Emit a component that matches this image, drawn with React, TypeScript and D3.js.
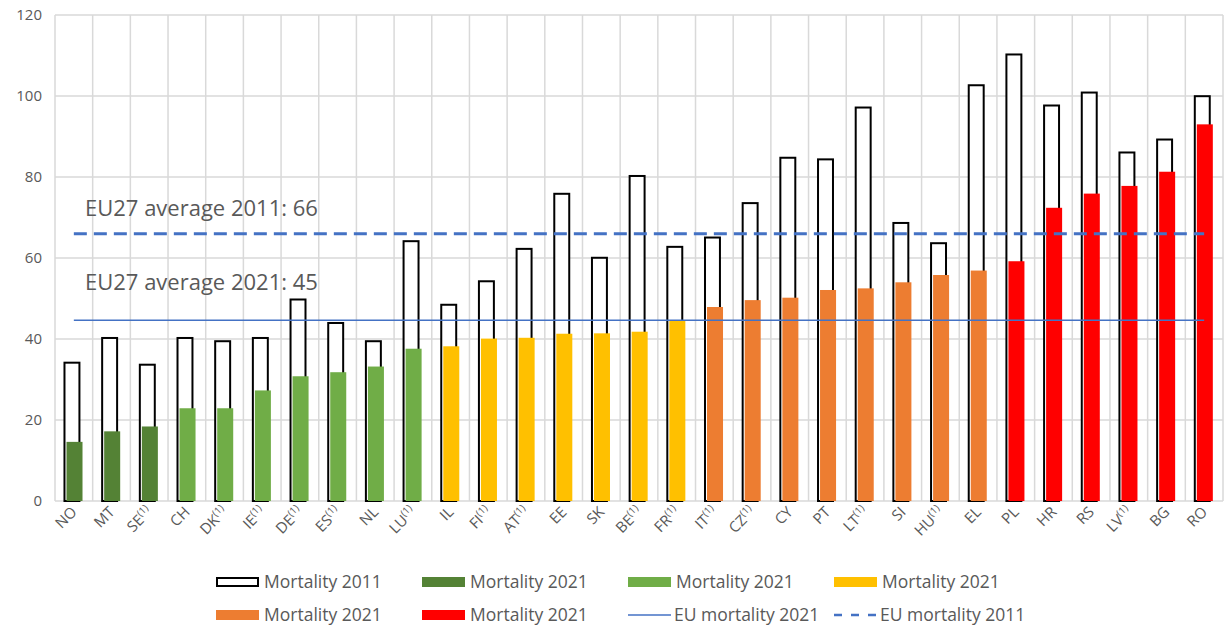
import * as d3 from "d3";
import { useEffect, useRef } from "react";

// country codes, footnote flag (1) shown as superscript
const countries = ["NO","MT","SE","CH","DK","IE","DE","ES","NL","LU","IL","FI","AT","EE","SK","BE","FR","IT","CZ","CY","PT","LT","SI","HU","EL","PL","HR","RS","LV","BG","RO"];
const footnote = [0,0,1,0,1,1,1,1,0,1,0,1,1,0,0,1,1,1,1,0,0,1,0,1,0,0,0,0,1,0,0];

const mortality2011 = [34.4,40.5,33.9,40.5,39.7,40.5,50,44.2,39.7,64.4,48.7,54.5,62.5,76.1,60.3,80.5,63,65.3,73.8,85,84.6,97.4,68.9,63.9,102.9,110.5,97.9,101.1,86.3,89.5,100.2];
const mortality2021 = [14.6,17.2,18.4,22.9,22.9,27.3,30.8,31.8,33.2,37.6,38.2,40.1,40.3,41.3,41.4,41.8,44.5,47.9,49.6,50.2,52.1,52.5,54,55.8,56.9,59.2,72.4,75.9,77.8,81.3,93];
// which colour group each 2021 bar belongs to
const group2021 = [0,0,0,1,1,1,1,1,1,1,2,2,2,2,2,2,2,3,3,3,3,3,3,3,3,4,4,4,4,4,4];

const euAvg2011 = 66;
const euAvg2021 = 44.6;

const yTicks = [0,20,40,60,80,100,120];
const legendLabels = ["Mortality 2011","Mortality 2021","Mortality 2021","Mortality 2021","Mortality 2021","Mortality 2021","EU mortality 2021","EU mortality 2011"];

const groupColors = ["#548235","#70AD47","#FFC000","#ED7D31","#FF0000"];
const gray = "#595959";
const blue = "#4472C4";

export default function App(){
    const ref = useRef<SVGSVGElement>(null);

    useEffect(()=>{
        const svg = d3.select(ref.current);
        svg.selectAll("*").remove();
        const font = "'Open Sans', sans-serif";

        const x = d3.scaleBand().domain(countries).range([55,1223]).paddingInner(0).paddingOuter(0);
        const y = d3.scaleLinear().domain([0,120]).range([501,15]);
        const bw = x.bandwidth();

        //grid
        svg.selectAll("hgrid").data(yTicks).enter().append("line")
            .attr("x1",55).attr("x2",1223)
            .attr("y1",d=>y(d)).attr("y2",d=>y(d))
            .attr("stroke","#d9d9d9").attr("stroke-width",1.5);
        const bounds = countries.map(c=>x(c)!).concat([1223]);
        svg.selectAll("vgrid").data(bounds).enter().append("line")
            .attr("x1",d=>d).attr("x2",d=>d)
            .attr("y1",y(0)).attr("y2",y(120))
            .attr("stroke","#d9d9d9").attr("stroke-width",1.5);

        //y labels
        svg.selectAll("ylab").data(yTicks).enter().append("text")
            .attr("x",42).attr("y",d=>y(d)+5)
            .attr("text-anchor","end")
            .style("font",`15px ${font}`).style("fill",gray)
            .text(d=>d);

        //2011 outline bars
        svg.selectAll("b2011").data(mortality2011).enter().append("rect")
            .attr("x",(d,i)=>x(countries[i])!+bw*0.225+1)
            .attr("width",bw*0.45-2)
            .attr("y",d=>y(d)+1)
            .attr("height",d=>y(0)-y(d)-1)
            .attr("fill","white").attr("stroke","black").attr("stroke-width",2);

        //2021 filled bars
        svg.selectAll("b2021").data(mortality2021).enter().append("rect")
            .attr("x",(d,i)=>x(countries[i])!+bw*0.305)
            .attr("width",bw*0.425)
            .attr("y",d=>y(d))
            .attr("height",d=>y(0)-y(d))
            .attr("fill",(d,i)=>groupColors[group2021[i]]);

        //EU lines
        const x0 = x(countries[0])!+bw/2;
        const x1 = x(countries[countries.length-1])!+bw/2;
        svg.append("line").attr("x1",x0).attr("x2",x1)
            .attr("y1",y(euAvg2021)).attr("y2",y(euAvg2021))
            .attr("stroke",blue).attr("stroke-width",1.5);
        svg.append("line").attr("x1",x0).attr("x2",x1)
            .attr("y1",y(euAvg2011)).attr("y2",y(euAvg2011))
            .attr("stroke",blue).attr("stroke-width",3).attr("stroke-dasharray","13,7");

        //annotations
        svg.append("text").attr("x",85).attr("y",216)
            .style("font",`22px ${font}`).style("fill",gray)
            .text("EU27 average 2011: "+euAvg2011);
        svg.append("text").attr("x",85).attr("y",290)
            .style("font",`22px ${font}`).style("fill",gray)
            .text("EU27 average 2021: "+Math.round(euAvg2021));

        //x labels
        const xl = svg.selectAll("xlab").data(countries).enter().append("text")
            .attr("transform",d=>"translate("+(x(d)!+bw/2+4)+",513)rotate(-45)")
            .attr("text-anchor","end")
            .style("font",`15px ${font}`).style("fill",gray);
        xl.append("tspan").text(d=>d);
        xl.filter((d,i)=>footnote[i]===1).append("tspan")
            .attr("dy",-6).style("font-size","10px").text("(1)");

        //legend
        const legend = svg.selectAll("leg").data(legendLabels).enter().append("g")
            .attr("transform",(d,i)=>"translate("+(216+(i%4)*206)+","+(i<4?582:615)+")");
        legend.each(function(d,i){
            const g = d3.select(this);
            if(i===0){
                g.append("rect").attr("x",1).attr("y",-4).attr("width",41).attr("height",8)
                    .attr("fill","white").attr("stroke","black").attr("stroke-width",2);
            } else if(i<6){
                g.append("rect").attr("x",0).attr("y",-5).attr("width",43).attr("height",10)
                    .attr("fill",groupColors[i-1]);
            } else if(i===6){
                g.append("line").attr("x1",0).attr("x2",43).attr("y1",0).attr("y2",0)
                    .attr("stroke",blue).attr("stroke-width",1.5);
            } else {
                g.append("line").attr("x1",0).attr("x2",43).attr("y1",0).attr("y2",0)
                    .attr("stroke",blue).attr("stroke-width",2.5).attr("stroke-dasharray","8,9");
            }
            g.append("text").attr("x",i>=6?46:48).attr("y",6)
                .style("font",`17.5px ${font}`).style("fill",gray)
                .text(d);
        });
    },[]);

    return (
        <svg ref={ref} width={1229} height={625} style={{position:"absolute",left:0,top:0,background:"white"}}></svg>
    );
}
